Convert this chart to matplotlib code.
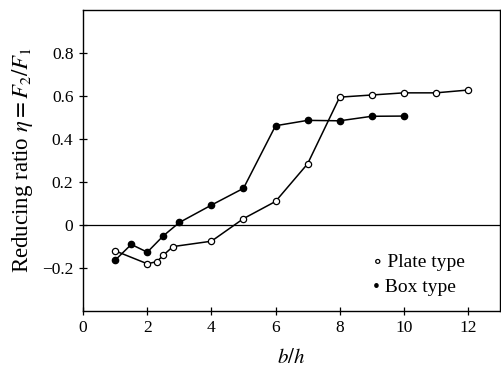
import matplotlib.pyplot as plt

plt.rcParams["font.family"] = ["Liberation Serif", "DejaVu Serif"]
plt.rcParams["mathtext.fontset"] = "stix"

# b/h values and reducing ratio for the two girder types
PLATE_X = [1.0, 2.0, 2.3, 2.5, 2.8, 4.0, 5.0, 6.0, 7.0, 8.0, 9.0, 10.0, 11.0, 12.0]
PLATE_Y = [-0.12, -0.18, -0.17, -0.14, -0.10, -0.075, 0.03, 0.11, 0.285, 0.595, 0.605, 0.615, 0.615, 0.628]
BOX_X = [1.0, 1.5, 2.0, 2.5, 3.0, 4.0, 5.0, 6.0, 7.0, 8.0, 9.0, 10.0]
BOX_Y = [-0.163, -0.09, -0.126, -0.05, 0.012, 0.093, 0.171, 0.462, 0.487, 0.485, 0.506, 0.507]
X_TICKS = [0, 2, 4, 6, 8, 10, 12]
Y_TICKS = [-0.2, 0, 0.2, 0.4, 0.6, 0.8]
Y_LABELS = ["\u22120.2", "0", "0.2", "0.4", "0.6", "0.8"]

fig = plt.figure(figsize=(5.01, 3.73), dpi=100)
ax = fig.add_axes([0.166, 0.166, 0.832, 0.807])

ax.axhline(0, color="black", lw=0.9)
ax.plot(PLATE_X, PLATE_Y, color="black", lw=1.1, marker="o", ms=4.5,
        mfc="white", mec="black", mew=0.9)
ax.plot(BOX_X, BOX_Y, color="black", lw=1.1, marker="o", ms=4.5,
        mfc="black", mec="black")

ax.set_xlim(0, 13)
ax.set_ylim(-0.4, 1.0)
ax.set_xticks(X_TICKS)
ax.set_yticks(Y_TICKS)
ax.set_yticklabels(Y_LABELS)
ax.tick_params(direction="inout", length=6, width=0.9, labelsize=12.5)
ax.tick_params(axis="y", pad=4)
for s in ax.spines.values():
    s.set_linewidth(1.0)

ax.set_xlabel(r"$b/h$", fontsize=15, labelpad=9)
ax.set_ylabel(r"Reducing ratio $\eta=F_2/F_1$", fontsize=16.5, labelpad=5)

ax.text(9.05, -0.172, "\u2218 Plate type", fontsize=14, va="center")
ax.text(9.05, -0.288, "\u2022 Box type", fontsize=14, va="center")

fig.savefig("out.png", dpi=100)
